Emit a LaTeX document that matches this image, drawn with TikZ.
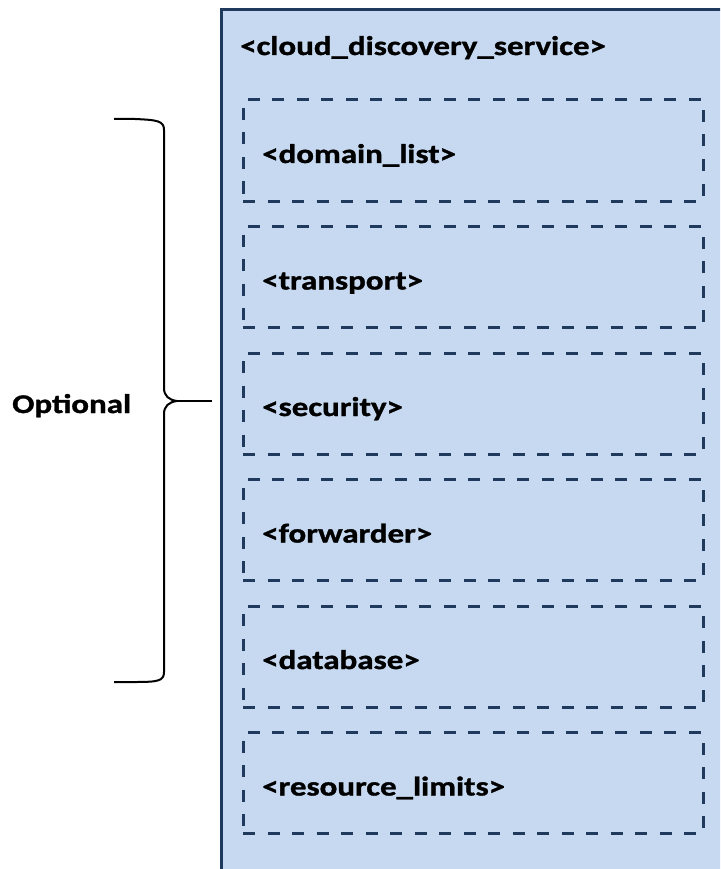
\documentclass[tikz,border=0pt]{standalone}
\usepackage{fontspec}
\setmainfont{Carlito}
\newfontfamily\widefont[FakeStretch=1.22, FakeBold=1.2]{Carlito Bold}
\definecolor{boxfill}{HTML}{C6D9F0}
\definecolor{boxline}{HTML}{1F3A5C}
\begin{document}
\begin{tikzpicture}[x=1pt,y=-1pt,
  outerbox/.style={draw=boxline, line width=3pt, fill=boxfill},
  dbox/.style={draw=boxline, line width=3pt, dash pattern=on 12pt off 12.5pt,
    minimum width=460pt, minimum height=101pt, inner sep=0pt},
  lbl/.style={font=\widefont\fontsize{27}{30}\selectfont, anchor=base west, inner sep=0pt},
  bracepath/.style={draw=black, line width=2pt}
]
\useasboundingbox (0,0) rectangle (720,869);
\clip (0,0) rectangle (720,869);
\fill[white] (0,0) rectangle (720,869);
\draw[outerbox] (221,10) rectangle (760,900);
\node[lbl] (title) at (240,55) {<cloud\_discovery\_service>};
\foreach \i/\t in {0/domain\_list,1/transport,2/security,3/forwarder,4/database,5/resource\_limits}{
  \pgfmathsetmacro{\top}{100+126.5*\i}
  \node[dbox] (b\i) at (473,\top+50.5) {};
  \node[lbl] (l\i) at (262,\top+63) {<\t>};
}
\coordinate (tip) at (177,401);
\coordinate (tail) at (212,401);
\draw[bracepath] (114,119) -- (135,119) .. controls (158,120) and (164,121) .. (164,130)
  -- (164,388) .. controls (164,396) and (169,400) .. (tip)
  .. controls (169,402) and (164,406) .. (164,414)
  -- (164,672) .. controls (164,681) and (158,682) .. (135,682) -- (114,682);
\draw[bracepath] (tip) -- (tail);
\node[lbl] (opt) at (12,413) {Optional};
\end{tikzpicture}
\end{document}
